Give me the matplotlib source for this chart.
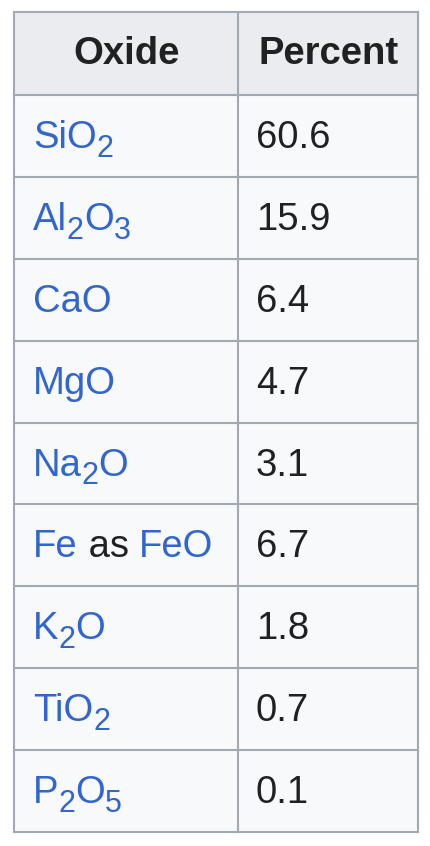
import matplotlib
matplotlib.use("Agg")
import matplotlib.pyplot as plt
import re

oxides = ["SiO_2", "Al_2O_3", "CaO", "MgO", "Na_2O", "Fe as FeO", "K_2O", "TiO_2", "P_2O_5"]
percents = ["60.6", "15.9", "6.4", "4.7", "3.1", "6.7", "1.8", "0.7", "0.1"]
headers = ["Oxide", "Percent"]

W, H = 431, 846
fig = plt.figure(figsize=(W/100, H/100), dpi=100)
ax = fig.add_axes([0, 0, 1, 1])
ax.set_xlim(0, W); ax.set_ylim(H, 0); ax.axis("off")

FONT = "Liberation Sans"
FS = 27.5
BLUE = "#3366cc"; DARK = "#202122"; BORDER = "#a2a9b1"
left, right, mid = 14.5, 418.5, 238
top, head_bot, bot = 12.5, 95, 832
n = len(oxides)
rowh = (bot - head_bot) / n

ax.add_patch(plt.Rectangle((left, top), right-left, head_bot-top, color="#eaecf0", zorder=0))
ax.add_patch(plt.Rectangle((left, head_bot), right-left, bot-head_bot, color="#f8f9fa", zorder=0))
lw = 1.5
for y in [top, head_bot] + [head_bot + rowh*(i+1) for i in range(n)]:
    ax.plot([left, right], [y, y], color=BORDER, lw=lw, zorder=1)
for x in [left, mid, right]:
    ax.plot([x, x], [top, bot], color=BORDER, lw=lw, zorder=1)

hy = (top + head_bot) / 2
ax.text((left+mid)/2, hy, headers[0], fontsize=FS, fontweight="bold", family=FONT, color=DARK, ha="center", va="center")
ax.text((mid+right)/2, hy, headers[1], fontsize=FS, fontweight="bold", family=FONT, color=DARK, ha="center", va="center")

fig.canvas.draw()
r = fig.canvas.get_renderer()

def segments(label):
    segs = []
    if " as " in label:
        a, b = label.split(" as ")
        return segments(a) + [(" as ", DARK, False)] + segments(b)
    for m in re.finditer(r"_(\d)|([^_]+)", label):
        if m.group(1):
            segs.append((m.group(1), BLUE, True))
        else:
            segs.append((m.group(2), BLUE, False))
    return segs

for i, (ox, pc) in enumerate(zip(oxides, percents)):
    yc = head_bot + rowh*(i+0.5)
    base = yc + 12
    x = 33
    for txt, col, sub in segments(ox):
        t = ax.text(x, base + (9 if sub else 0), txt.replace(" ", "\u00a0"), fontsize=FS*0.8 if sub else FS,
                    family=FONT, color=col, ha="left", va="baseline")
        x += t.get_window_extent(r).width
    ax.text(256, base, pc, fontsize=FS, family=FONT, color=DARK, ha="left", va="baseline")

fig.savefig("out.png", dpi=100)
